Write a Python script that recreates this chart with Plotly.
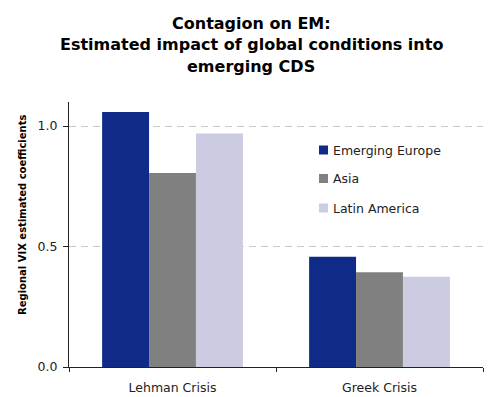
import plotly.graph_objects as go

# Regional VIX coefficients by crisis episode
categories = ["Lehman Crisis", "Greek Crisis"]
emerging_europe = [1.058, 0.458]
asia = [0.805, 0.393]
latin_america = [0.969, 0.375]

series = [
    ("Emerging Europe", emerging_europe, "#0f2a87"),
    ("Asia", asia, "#808080"),
    ("Latin America", latin_america, "#cbcbe2"),
]

title_lines = [
    "Contagion on EM:",
    "Estimated impact of global conditions into",
    "emerging CDS",
]

FONT = "DejaVu Sans"
W, H = 488, 397
L, R, T, B = 69, 5, 102, 30
PW, PH = W - L - R, H - T - B


def px_x(x):
    return (x - L) / PW


def px_y(y):
    return (H - B - y) / PH


fig = go.Figure()
for name, vals, color in series:
    fig.add_trace(go.Bar(
        x=categories, y=vals, name=name, showlegend=False,
        marker=dict(color=color, line=dict(width=0)),
    ))

annotations = []
# title, one line per annotation for tight line spacing
for line, yc in zip(title_lines, [23, 44.5, 66]):
    annotations.append(dict(
        text=f"<b>{line}</b>",
        x=px_x(251), xref="paper", xanchor="center",
        y=px_y(yc), yref="paper", yanchor="middle",
        showarrow=False,
        font=dict(family=FONT, size=16, color="#000000"),
    ))

annotations.append(dict(
    text="<b>Regional VIX estimated coefficients</b>",
    x=px_x(22), xref="paper", xanchor="center",
    y=px_y(215), yref="paper", yanchor="middle",
    textangle=-90, showarrow=False,
    font=dict(family=FONT, size=10, color="#000000"),
))

# legend: swatch + label per series
shapes = []
legend_rows = [150, 178.5, 208]
for (name, _, color), yc in zip(series, legend_rows):
    shapes.append(dict(
        type="rect", xref="paper", yref="paper",
        x0=px_x(319), x1=px_x(328), y0=px_y(yc + 4.5), y1=px_y(yc - 4.5),
        fillcolor=color, line=dict(width=0),
    ))
    annotations.append(dict(
        text=name, x=px_x(331), xref="paper", xanchor="left",
        y=px_y(yc), yref="paper", yanchor="middle", showarrow=False,
        font=dict(family=FONT, size=12.5, color="#222222"),
    ))

fig.update_layout(
    width=W, height=H,
    margin=dict(l=L, r=R, t=T, b=B),
    paper_bgcolor="white", plot_bgcolor="white",
    barmode="group", bargap=0.32, bargroupgap=0,
    font=dict(family=FONT, size=12, color="#222222"),
    showlegend=False,
    xaxis=dict(
        showline=True, linecolor="#222222", linewidth=1,
        ticks="outside", ticklen=4, tickcolor="#222222",
        tickson="boundaries", showgrid=False,
        ticklabelstandoff=9, automargin=False,
        tickfont=dict(family=FONT, size=12.5, color="#222222"),
    ),
    yaxis=dict(
        range=[0, 1.1], tickvals=[0, 0.5, 1.0], ticktext=["0.0", "0.5", "1.0"],
        showline=True, linecolor="#222222", linewidth=1,
        ticks="outside", ticklen=5, tickcolor="#222222",
        showgrid=True, gridcolor="#c8c8c8", griddash="7px,5px", gridwidth=1,
        zeroline=False, automargin=False, ticklabelstandoff=3,
        tickfont=dict(family=FONT, size=12.5, color="#222222"),
    ),
    shapes=shapes,
    annotations=annotations,
)

fig.write_html("out.html")
